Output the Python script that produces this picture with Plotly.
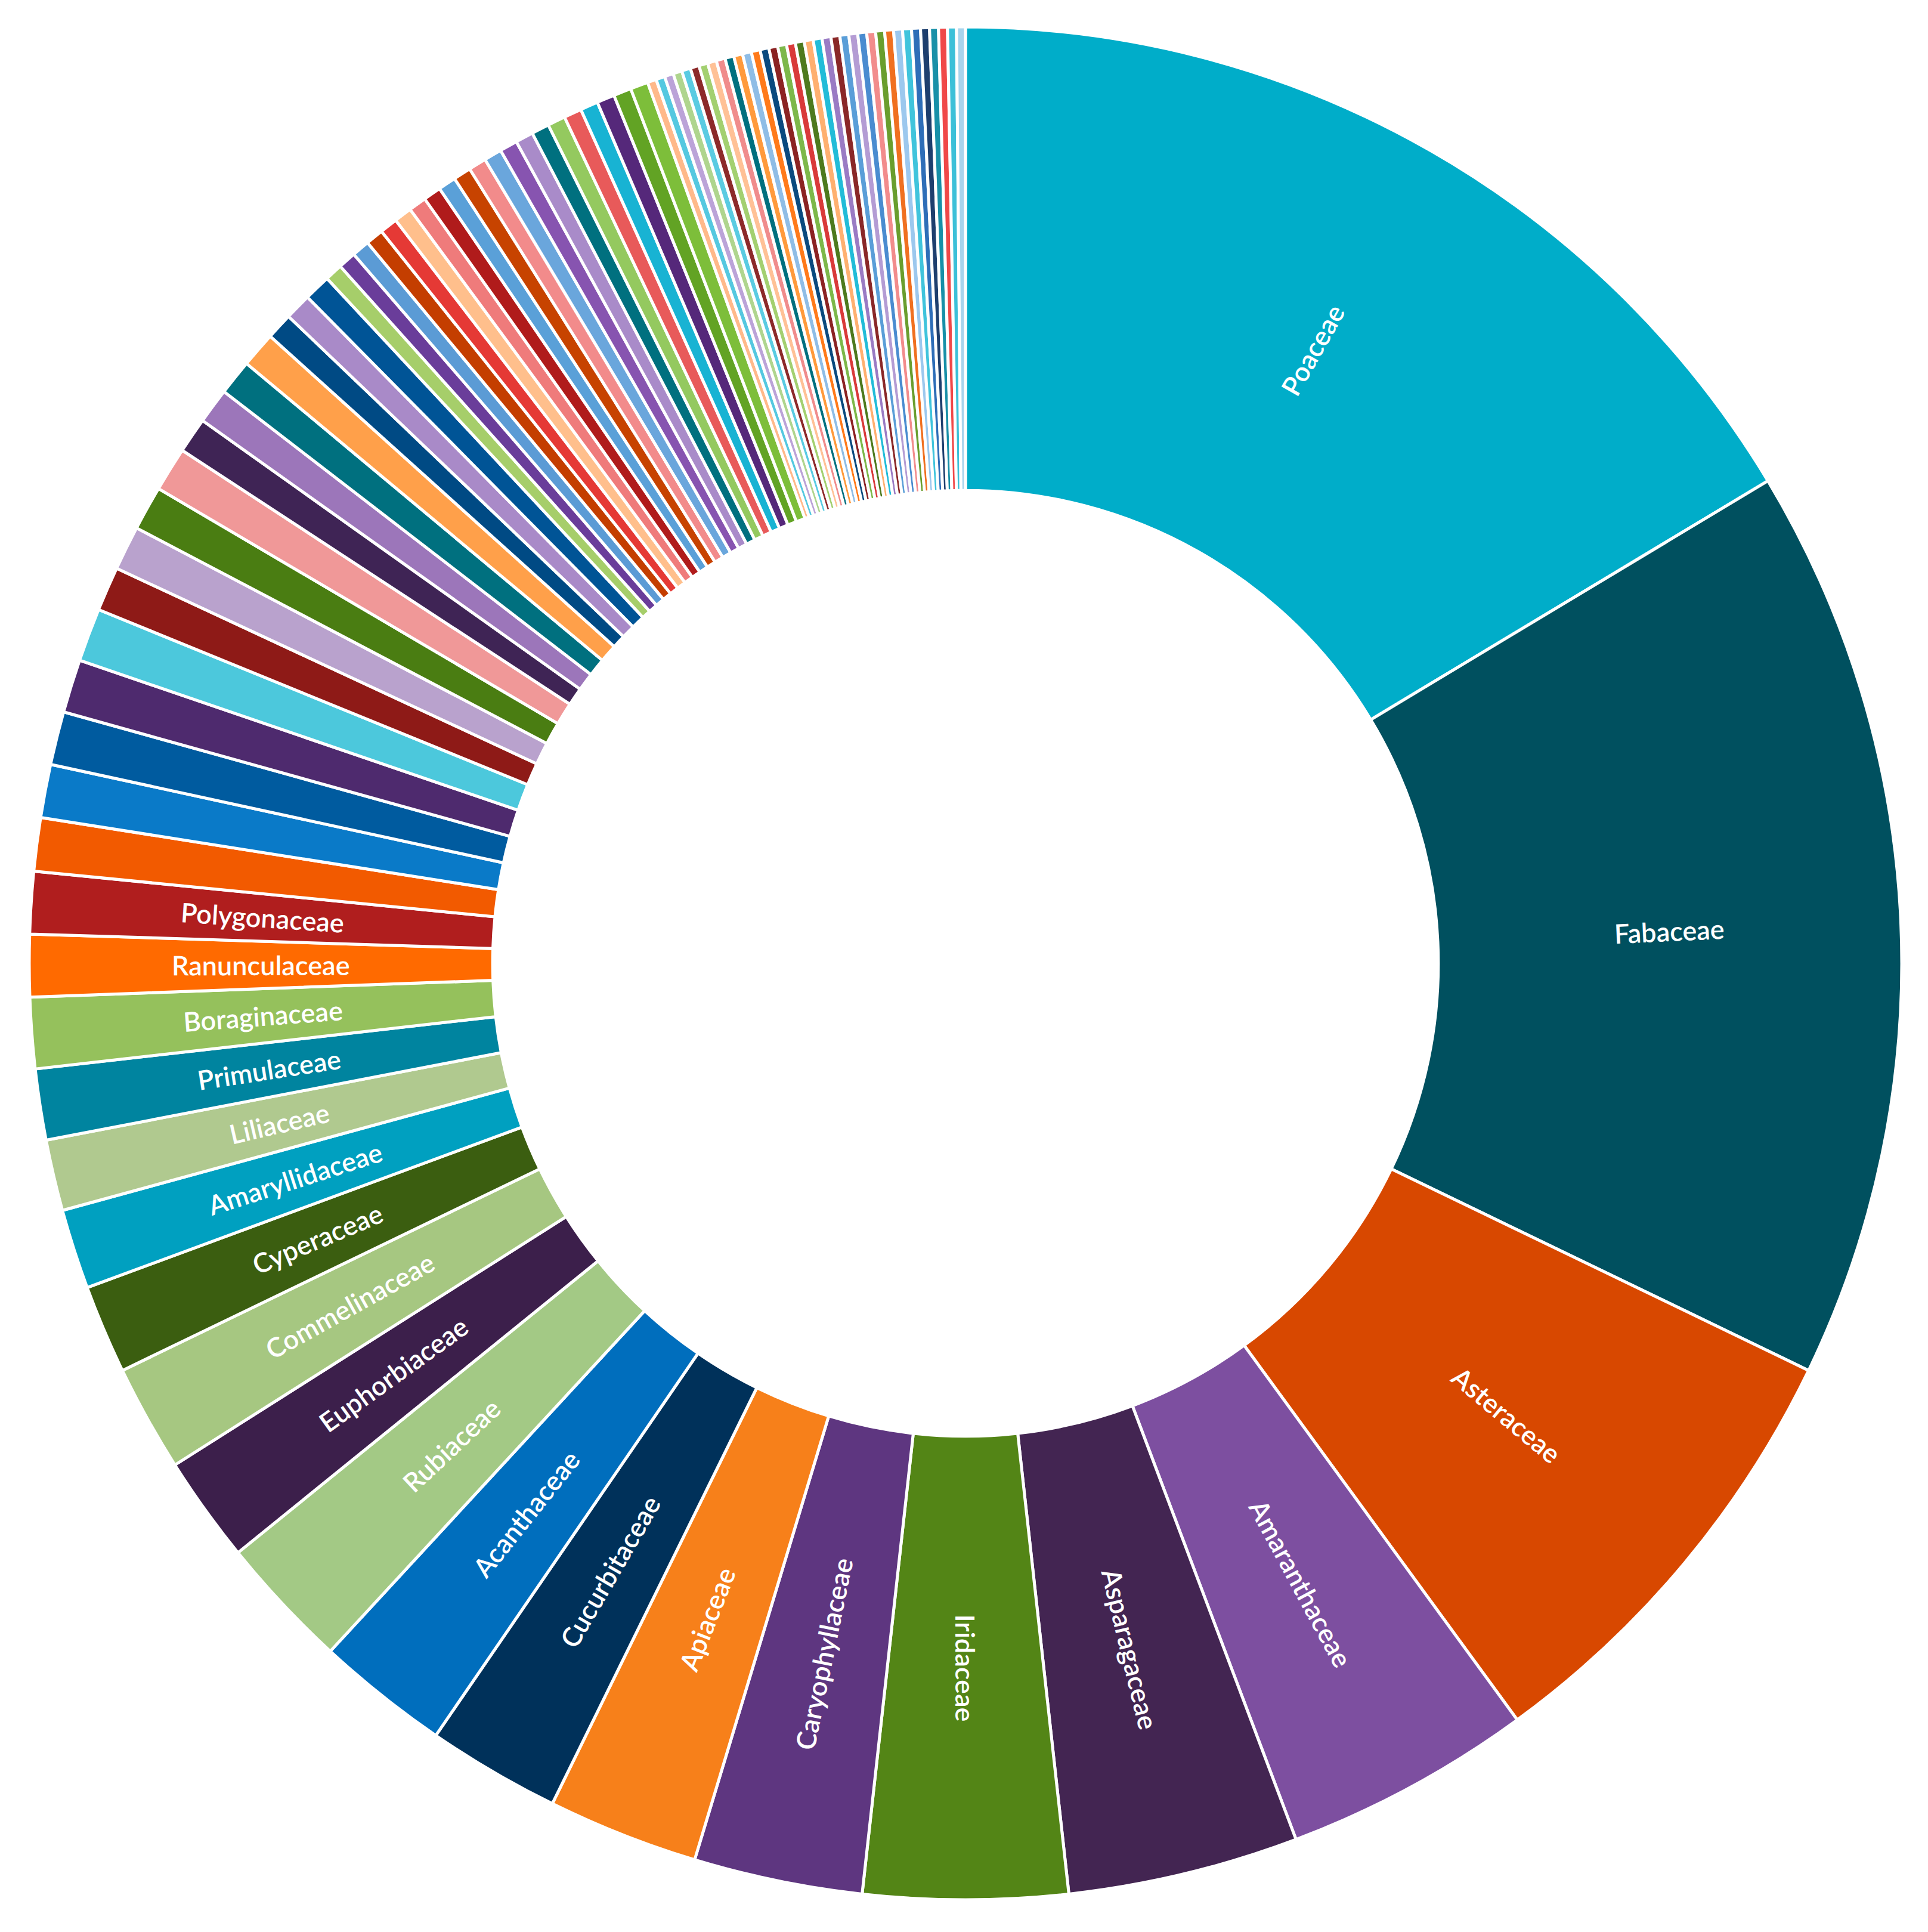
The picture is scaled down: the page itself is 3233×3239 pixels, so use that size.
import math
import plotly.graph_objects as go

# Labelled families (clockwise from 12 o'clock)
labeled_families = ["Poaceae", "Fabaceae", "Asteraceae", "Amaranthaceae", "Asparagaceae",
                    "Iridaceae", "Caryophyllaceae", "Apiaceae", "Cucurbitaceae", "Acanthaceae",
                    "Rubiaceae", "Euphorbiaceae", "Commelinaceae", "Cyperaceae", "Amaryllidaceae",
                    "Liliaceae", "Primulaceae", "Boraginaceae", "Ranunculaceae", "Polygonaceae"]
labeled_values = [107, 103, 51, 28, 26, 23, 19, 17, 15, 15, 15, 12, 12, 10, 9, 8, 8, 8, 7, 7]
labeled_colors = ["#00ADC9", "#00505F", "#D84800", "#7D4FA0", "#432552",
                  "#538516", "#5E3680", "#F7801A", "#00315A", "#006EBD",
                  "#A3C985", "#3C1F4B", "#A6C781", "#3B5E10", "#00A0C0",
                  "#B0C98F", "#00849F", "#95C15C", "#FF6A00", "#B01E1E"]

# Unlabelled families (continuing clockwise)
other_values = ([6, 6, 6, 6, 6, 5, 5, 5, 5, 4, 4, 4] + [4, 3, 3, 3] + [2] * 21 + [1] * 36)
other_colors = [
    "#F25A00", "#0A7AC8", "#005B9F", "#4E2A6E", "#4CC8DC", "#8E1A17",
    "#B9A2CD", "#4A7D12", "#F09898", "#3F2455", "#9C76BA", "#00707F",
    "#FFA04A", "#004A84", "#A98AC8", "#005496",
    "#A6CE6A", "#6A3D9A", "#5B9BD5", "#C43E00", "#E53935", "#FFBF8C", "#EF7B7B",
    "#B01B1B", "#5AA0D8", "#C74300", "#F28B8B", "#6AA6DC", "#8754B0", "#A98BC9",
    "#00707F", "#94C95F", "#E85A5A", "#18B3D3", "#55287A", "#62A324", "#7DBE3A",
    "#FFB98A", "#55C8E0", "#BBA3D8", "#AFD58E", "#5ACBE2", "#8C2A2A", "#A3D070",
    "#FFC196", "#F08C8C", "#00707F", "#FF9A3C", "#8FBDE6", "#FF7A1A",
    "#0A4A7F", "#8B2323", "#7DB84A", "#D93A3A", "#4E7A1E", "#FFB070", "#22BCD8",
    "#9A7BC4", "#8A2828", "#5A9ED8", "#B49CD4", "#4A8CD0", "#F28C8C",
    "#6A9E2E", "#F07020", "#9CC8EE", "#40C4DC", "#2E6EB8", "#1E3F6E", "#1890A8",
    "#F04848", "#3CC0D8", "#A8D4EC"]
other_ids = ["Family %d" % (i + 21) for i in range(len(other_values))]

labels = labeled_families + other_ids
values = labeled_values + other_values
colors = labeled_colors + other_colors[:len(other_values)]

W, H = 3233, 3239
cx, cy, R = 1611, 1607, 1570
HOLE = 0.505

fig = go.Figure(go.Pie(
    labels=labels,
    values=values,
    textinfo="none",
    marker=dict(colors=colors, line=dict(color="white", width=5)),
    hole=HOLE,
    sort=False,
    direction="clockwise",
    rotation=0,
    showlegend=False,
    hoverinfo="label+value",
    domain=dict(x=[(cx - R) / W, (cx + R) / W],
                y=[(H - cy - R) / H, (H - cy + R) / H]),
))

# Radial labels placed at the middle of the ring, derived from the slice values
total = float(sum(values))
r_mid = R * (1 + HOLE) / 2
cum = 0.0
annotations = []
for name, v in zip(labeled_families, labeled_values):
    theta = 360.0 * (cum + v / 2.0) / total
    cum += v
    t = math.radians(theta)
    rot = theta - 90.0
    if rot > 90:
        rot -= 180
    annotations.append(dict(
        x=(cx + r_mid * math.sin(t)) / W,
        y=(H - cy + r_mid * math.cos(t)) / H,
        xref="paper", yref="paper",
        text=name, showarrow=False,
        textangle=rot,
        xanchor="center", yanchor="middle",
        font=dict(family="Lato", size=45, color="white", weight=600),
    ))

fig.update_layout(
    width=W, height=H,
    margin=dict(l=0, r=0, t=0, b=0),
    paper_bgcolor="white",
    plot_bgcolor="white",
    annotations=annotations,
)

fig.write_html("out.html")
